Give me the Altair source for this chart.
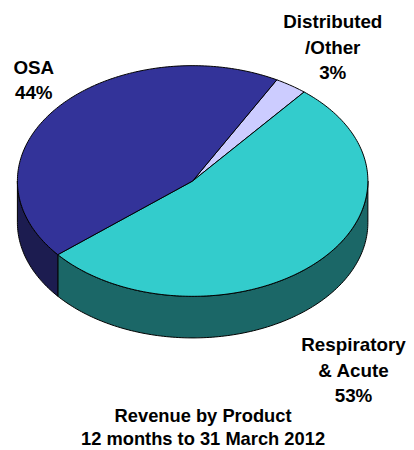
import altair as alt
import numpy as np
import pandas as pd

# ---- data ----
keys = ["Distributed", "Respiratory", "OSA"]
names = ["Distributed\n/Other", "Respiratory\n& Acute", "OSA"]
shares = [3, 53, 44]
pct_labels = ["3%", "53%", "44%"]
title_lines = ["Revenue by Product", "12 months to 31 March 2012"]

# ---- styles ----
top_colors = ["#CCCCFF", "#33CCCC", "#333399"]
side_colors = ["#8F8FB8", "#1B6767", "#1C1C50"]

# ---- layout (pixel-like coordinates of the page) ----
CX, CY, RX, RY, DEPTH = 194.5, 180.5, 177, 116.5, 42
START = -61.3  # screen angle (deg, clockwise from 3 o'clock) where first slice starts
label_x = [336, 357, 34]
label_y = [26, 352, 72]
title_x, title_y = 205, 424

total = sum(shares)
top_rows, side_rows = [], []
a = START
for k, s, tc, sc in zip(keys, shares, top_colors, side_colors):
    b = a + 360.0 * s / total
    n = int(abs(b - a)) + 2
    th = np.radians(np.linspace(a, b, n))
    pts = [(CX, CY)] + [(CX + RX * np.cos(t), CY + RY * np.sin(t)) for t in th] + [(CX, CY)]
    for i, (x, y) in enumerate(pts):
        top_rows.append({"poly": k, "i": i, "x": x, "y": y, "color": tc})
    # visible front wall: angles within [0, 180]
    for off in (-360, 0, 360):
        lo = max(a + off, 0.0)
        hi = min(b + off, 180.0)
        if hi > lo:
            m = int(hi - lo) + 2
            tt = np.radians(np.linspace(lo, hi, m))
            up = [(CX + RX * np.cos(t), CY + RY * np.sin(t)) for t in tt]
            dn = [(x, y + DEPTH) for (x, y) in up[::-1]]
            poly = up + dn + [up[0]]
            for i, (x, y) in enumerate(poly):
                side_rows.append({"poly": f"{k}{off}", "i": i, "x": x, "y": y, "color": sc})
    a = b

df_top = pd.DataFrame(top_rows)
df_side = pd.DataFrame(side_rows)
df_lab = pd.DataFrame({
    "text": [n_ + "\n" + p for n_, p in zip(names, pct_labels)],
    "x": label_x,
    "y": label_y,
})
df_title = pd.DataFrame({"text": ["\n".join(title_lines)], "x": [title_x], "y": [title_y]})

W, H = 398, 442
xs = alt.Scale(domain=[8, 8 + W], nice=False, zero=False)
ys = alt.Scale(domain=[8, 8 + H], nice=False, zero=False, reverse=True)

def poly_layer(df):
    return alt.Chart(df).mark_line(
        filled=True, stroke="black", strokeWidth=1, strokeJoin="round"
    ).encode(
        x=alt.X("x:Q", scale=xs, axis=None),
        y=alt.Y("y:Q", scale=ys, axis=None),
        order="i:Q",
        detail="poly:N",
        fill=alt.Fill("color:N", scale=None),
    )

sides = poly_layer(df_side)
tops = poly_layer(df_top)

labels = alt.Chart(df_lab).mark_text(
    font="Liberation Sans", fontWeight="bold", fontSize=19, align="center",
    baseline="alphabetic", lineBreak="\n", lineHeight=26, color="black",
).encode(
    x=alt.X("x:Q", scale=xs, axis=None),
    y=alt.Y("y:Q", scale=ys, axis=None),
    text="text:N",
)

title = alt.Chart(df_title).mark_text(
    font="Liberation Sans", fontWeight="bold", fontSize=18.5, align="center",
    baseline="alphabetic", lineBreak="\n", lineHeight=23, color="black",
).encode(
    x=alt.X("x:Q", scale=xs, axis=None),
    y=alt.Y("y:Q", scale=ys, axis=None),
    text="text:N",
)

chart = alt.layer(sides, tops, labels, title).properties(
    width=W, height=H, padding=0, background="white"
).configure_view(strokeWidth=0)

chart.save("out.html", embed_options={"renderer": "svg", "actions": False})
